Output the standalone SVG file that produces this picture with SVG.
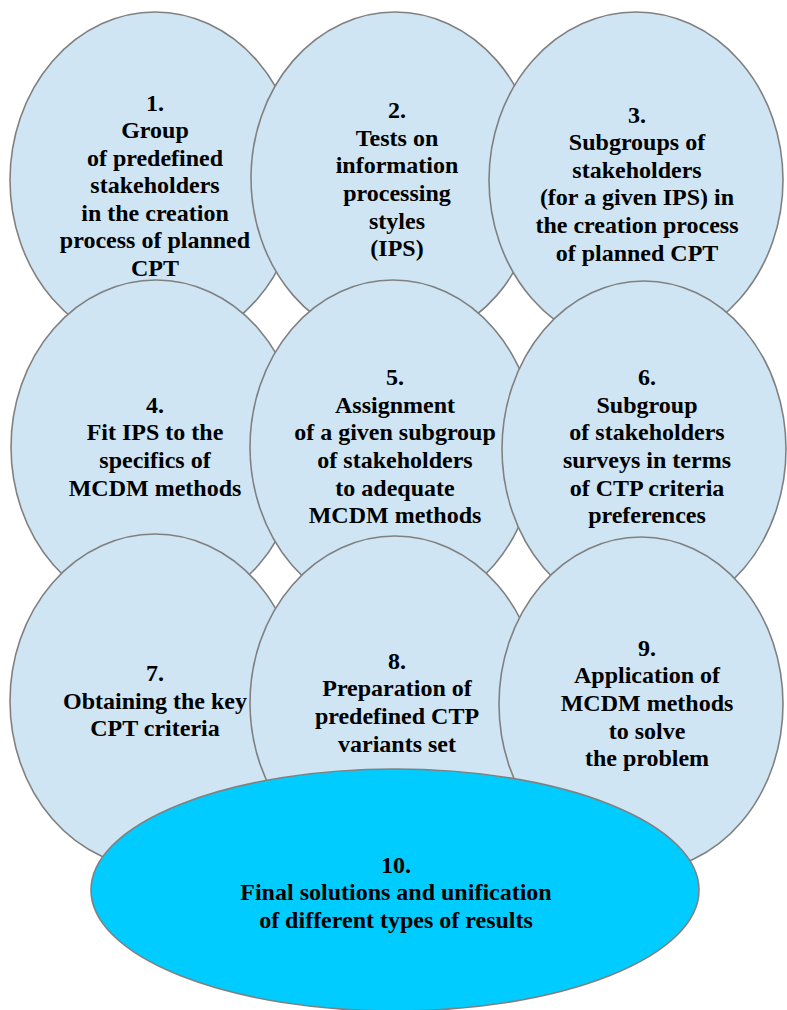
<svg xmlns="http://www.w3.org/2000/svg" width="787" height="1010" viewBox="0 0 787 1010">
<style>
.n{fill:#cfe5f3;stroke:#808080;stroke-width:1.6}
.f{fill:#00ccff;stroke:#808080;stroke-width:1.6}
.t{font-family:'Liberation Serif','Times New Roman',serif;font-weight:bold;font-size:24px;fill:#000;text-anchor:middle}
</style>
<rect width="787" height="1010" fill="#fff"/>
<g id="node1"><ellipse class="n" cx="155" cy="180" rx="145" ry="168"/>
<text class="t"><tspan x="155" y="111">1.</tspan><tspan x="155" y="138">Group</tspan><tspan x="155" y="166">of predefined</tspan><tspan x="155" y="193">stakeholders</tspan><tspan x="155" y="221">in the creation</tspan><tspan x="155" y="248">process of planned</tspan><tspan x="155" y="276">CPT</tspan></text></g>
<g id="node2"><ellipse class="n" cx="395" cy="178" rx="144" ry="166"/>
<text class="t"><tspan x="397" y="118">2.</tspan><tspan x="397" y="146">Tests on</tspan><tspan x="397" y="173">information</tspan><tspan x="397" y="201">processing</tspan><tspan x="397" y="229">styles</tspan><tspan x="397" y="256">(IPS)</tspan></text></g>
<g id="node3"><ellipse class="n" cx="636" cy="180" rx="147" ry="168"/>
<text class="t"><tspan x="637" y="123">3.</tspan><tspan x="637" y="150">Subgroups of</tspan><tspan x="637" y="178">stakeholders</tspan><tspan x="637" y="205">(for a given IPS) in</tspan><tspan x="637" y="233">the creation process</tspan><tspan x="637" y="261">of planned CPT</tspan></text></g>
<g id="node4"><ellipse class="n" cx="156" cy="447" rx="145" ry="167"/>
<text class="t"><tspan x="155" y="413">4.</tspan><tspan x="155" y="440">Fit IPS to the</tspan><tspan x="155" y="468">specifics of</tspan><tspan x="155" y="496">MCDM methods</tspan></text></g>
<g id="node5"><ellipse class="n" cx="393" cy="447" rx="143" ry="167"/>
<text class="t"><tspan x="395" y="385">5.</tspan><tspan x="395" y="413">Assignment</tspan><tspan x="395" y="440">of a given subgroup</tspan><tspan x="395" y="468">of stakeholders</tspan><tspan x="395" y="496">to adequate</tspan><tspan x="395" y="523">MCDM methods</tspan></text></g>
<g id="node6"><ellipse class="n" cx="644" cy="449" rx="142" ry="168"/>
<text class="t"><tspan x="647" y="385">6.</tspan><tspan x="647" y="413">Subgroup</tspan><tspan x="647" y="440">of stakeholders</tspan><tspan x="647" y="468">surveys in terms</tspan><tspan x="647" y="496">of CTP criteria</tspan><tspan x="647" y="523">preferences</tspan></text></g>
<g id="node7"><ellipse class="n" cx="155" cy="701" rx="145" ry="167"/>
<text class="t"><tspan x="155" y="681">7.</tspan><tspan x="155" y="709">Obtaining the key</tspan><tspan x="155" y="736">CPT criteria</tspan></text></g>
<g id="node8"><ellipse class="n" cx="395" cy="703" rx="145" ry="167"/>
<text class="t"><tspan x="397" y="669">8.</tspan><tspan x="397" y="696">Preparation of</tspan><tspan x="397" y="724">predefined CTP</tspan><tspan x="397" y="752">variants set</tspan></text></g>
<g id="node9"><ellipse class="n" cx="641" cy="704" rx="142" ry="167"/>
<text class="t"><tspan x="647" y="656">9.</tspan><tspan x="647" y="683">Application of</tspan><tspan x="647" y="711">MCDM methods</tspan><tspan x="647" y="739">to solve</tspan><tspan x="647" y="766">the problem</tspan></text></g>
<g id="node10"><ellipse class="f" cx="395" cy="890" rx="304" ry="121"/>
<text class="t"><tspan x="396" y="873">10.</tspan><tspan x="396" y="900">Final solutions and unification</tspan><tspan x="396" y="928">of different types of results</tspan></text></g>
<g id="connectors"></g>
</svg>
